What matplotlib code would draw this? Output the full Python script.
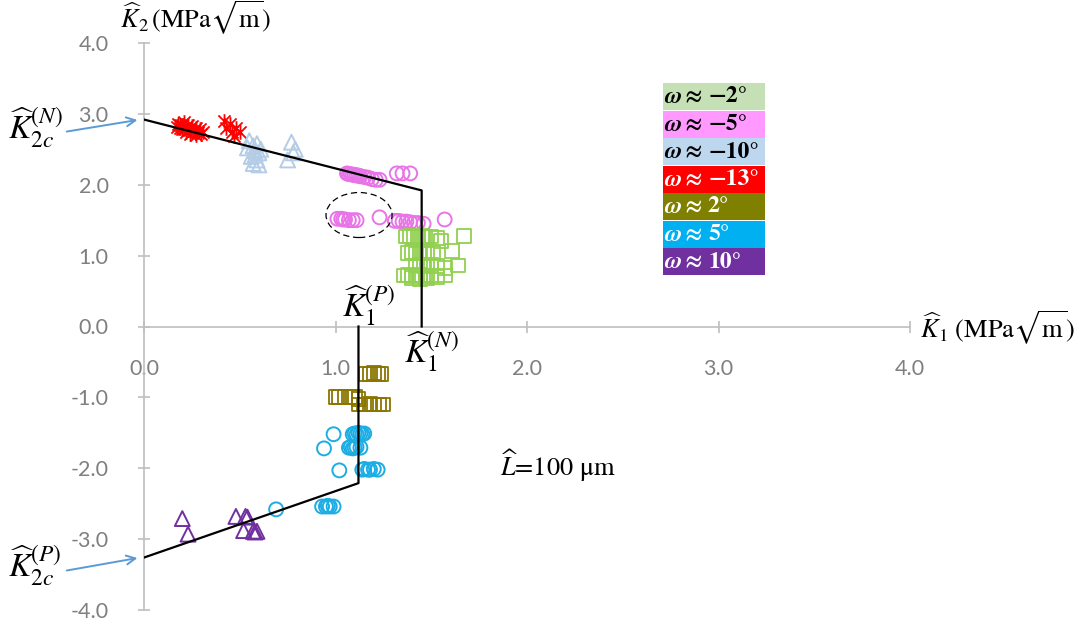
import matplotlib
matplotlib.use("Agg")
import matplotlib.pyplot as plt
from matplotlib.path import Path
from matplotlib.patches import Ellipse, Rectangle

plt.rcParams['mathtext.fontset'] = 'stix'

# ---------------- data ----------------
# failure envelope (MPa*sqrt(m))
K2c_N = 2.92
K2c_P = -3.26
K1_N = 1.45
K1_P = 1.12
env_upper_x = [0.0, K1_N, K1_N]
env_upper_y = [K2c_N, 1.92, 0.0]
env_lower_x = [K1_P, K1_P, 0.0]
env_lower_y = [0.0, -2.21, K2c_P]

# omega ~ -13 deg
w_m13_x = [0.17, 0.18, 0.19, 0.20, 0.20, 0.21, 0.22, 0.22, 0.23, 0.24, 0.24, 0.25,
           0.26, 0.27, 0.27, 0.28, 0.29, 0.30, 0.31, 0.19, 0.21, 0.23,
           0.42, 0.45, 0.43, 0.46, 0.50, 0.48, 0.47]
w_m13_y = [2.82, 2.86, 2.80, 2.84, 2.78, 2.88, 2.81, 2.75, 2.85, 2.79, 2.72, 2.83,
           2.76, 2.80, 2.70, 2.74, 2.78, 2.72, 2.75, 2.84, 2.79, 2.77,
           2.90, 2.86, 2.80, 2.75, 2.74, 2.80, 2.69]

# omega ~ -10 deg
w_m10_x = [0.55, 0.57, 0.58, 0.60, 0.56, 0.59, 0.57, 0.60, 0.58, 0.61, 0.54, 0.59,
           0.77, 0.79, 0.75, 0.78]
w_m10_y = [2.62, 2.55, 2.48, 2.45, 2.40, 2.35, 2.30, 2.28, 2.42, 2.50, 2.52, 2.58,
           2.60, 2.50, 2.35, 2.45]

# omega ~ -5 deg
w_m5_x = [1.06, 1.07, 1.08, 1.09, 1.10, 1.11, 1.12, 1.13, 1.15, 1.17, 1.19, 1.21, 1.23,
          1.32, 1.35, 1.39,
          1.01, 1.03, 1.04, 1.05, 1.07, 1.09, 1.11, 1.23,
          1.31, 1.33, 1.35, 1.37, 1.39, 1.41, 1.43, 1.46, 1.57]
w_m5_y = [2.16, 2.15, 2.15, 2.14, 2.14, 2.13, 2.13, 2.12, 2.11, 2.10, 2.08, 2.07, 2.07,
          2.16, 2.16, 2.16,
          1.52, 1.52, 1.51, 1.51, 1.50, 1.50, 1.50, 1.54,
          1.49, 1.49, 1.48, 1.48, 1.47, 1.46, 1.46, 1.45, 1.51]

# omega ~ -2 deg
w_m2_x = [1.37, 1.39, 1.41, 1.43, 1.45, 1.47, 1.50, 1.53,
          1.38, 1.40, 1.42, 1.44, 1.46, 1.48, 1.51,
          1.42, 1.44, 1.46, 1.48, 1.50, 1.53,
          1.36, 1.38, 1.40, 1.42, 1.44, 1.47, 1.50, 1.53,
          1.40, 1.44, 1.48,
          1.67, 1.61, 1.64, 1.57, 1.57, 1.55]
w_m2_y = [1.27, 1.28, 1.26, 1.27, 1.28, 1.26, 1.27, 1.25,
          1.04, 1.05, 1.03, 1.04, 1.05, 1.03, 1.04,
          0.86, 0.87, 0.85, 0.86, 0.87, 0.85,
          0.72, 0.73, 0.71, 0.72, 0.73, 0.71, 0.72, 0.70,
          0.68, 0.67, 0.68,
          1.28, 1.07, 0.86, 0.82, 0.72, 1.21]

# omega ~ 2 deg
w_p2_x = [1.16, 1.18, 1.20, 1.22, 1.24,
          1.00, 1.02, 1.05, 1.08, 1.10, 1.12,
          1.12, 1.15, 1.18, 1.20, 1.23, 1.25]
w_p2_y = [-0.67, -0.67, -0.66, -0.67, -0.67,
          -1.00, -1.00, -1.00, -1.00, -1.00, -1.02,
          -1.10, -1.10, -1.09, -1.10, -1.10, -1.10]

# omega ~ 5 deg
w_p5_x = [1.09, 1.10, 1.11, 1.12, 1.13, 1.14, 1.15,
          1.07, 1.08, 1.09, 1.10, 1.11, 1.13,
          1.14, 1.15, 1.17, 1.18, 1.20, 1.22,
          0.99, 0.94, 1.02,
          0.93, 0.95, 0.96, 0.97, 0.99, 0.69]
w_p5_y = [-1.52, -1.51, -1.52, -1.50, -1.51, -1.52, -1.51,
          -1.71, -1.70, -1.72, -1.71, -1.70, -1.71,
          -2.02, -2.01, -2.02, -2.02, -2.01, -2.02,
          -1.52, -1.72, -2.03,
          -2.54, -2.54, -2.53, -2.54, -2.54, -2.58]

# omega ~ 10 deg
w_p10_x = [0.20, 0.23, 0.48, 0.53, 0.54, 0.52, 0.57, 0.59, 0.58]
w_p10_y = [-2.71, -2.93, -2.68, -2.68, -2.69, -2.88, -2.89, -2.89, -2.90]

legend_values = ['−2°', '−5°', '−10°', '−13°', '2°', '5°', '10°']
legend_colors = ['#C5E0B4', '#FF99FF', '#BDD7EE', '#FF0000',
                 '#808000', '#00B0F0', '#7030A0']
legend_text_colors = ['black', 'black', 'black', 'white', 'white', 'white', 'white']

x_ticks = [0.0, 1.0, 2.0, 3.0, 4.0]
y_ticks = [-4.0, -3.0, -2.0, -1.0, 0.0, 1.0, 2.0, 3.0, 4.0]

# ---------------- figure ----------------
W, H = 1087, 635
fig = plt.figure(figsize=(W / 100, H / 100), dpi=100)


def fx(px):
    return px / W


def fy(py):
    return 1 - py / H


ax = fig.add_axes([fx(144), fy(610), fx(910) - fx(144), fy(43) - fy(610)])
ax.set_xlim(0, 4)
ax.set_ylim(-4, 4)
ax.patch.set_alpha(0)

axis_grey = '#BFBFBF'
label_grey = '#7F7F7F'
for s in ['top', 'right']:
    ax.spines[s].set_visible(False)
ax.spines['left'].set_position(('data', 0))
ax.spines['bottom'].set_position(('data', 0))
for s in ['left', 'bottom']:
    ax.spines[s].set_color(axis_grey)
    ax.spines[s].set_linewidth(1.2)
ax.set_xticks(x_ticks)
ax.set_yticks(y_ticks)
ax.set_xticklabels([f'{v:.1f}' for v in x_ticks])
ax.set_yticklabels([f'{v:.1f}' for v in y_ticks])
ax.tick_params(axis='both', direction='inout', length=9, width=1.2,
               color=axis_grey, labelcolor=label_grey, labelsize=15.5)
ax.tick_params(axis='x', pad=19)
ax.tick_params(axis='y', pad=21)
for lab in ax.get_xticklabels() + ax.get_yticklabels():
    lab.set_fontfamily('Lato')

# envelope
ax.plot(env_upper_x, env_upper_y, color='black', lw=1.6, zorder=4)
ax.plot(env_lower_x, env_lower_y, color='black', lw=1.6, zorder=4)

# star marker (x with a vertical bar)
star = Path([(-1, -1), (1, 1), (-1, 1), (1, -1), (0, -1.2), (0, 1.2)],
            [Path.MOVETO, Path.LINETO] * 3)

ax.scatter(w_m13_x, w_m13_y, marker=star, s=110, color='#FF0000', linewidths=1.3, zorder=3)
ax.scatter(w_m10_x, w_m10_y, marker='^', s=115, facecolors='none',
           edgecolors='#B4CCE6', linewidths=1.4, zorder=3)
ax.scatter(w_m5_x, w_m5_y, marker='o', s=100, facecolors='none',
           edgecolors='#E874E8', linewidths=1.4, zorder=3)
ax.scatter(w_m2_x, w_m2_y, marker='s', s=100, facecolors='none',
           edgecolors='#92D050', linewidths=1.3, zorder=3)
ax.scatter(w_p2_x, w_p2_y, marker='s', s=100, facecolors='none',
           edgecolors='#8A7500', linewidths=1.3, zorder=3)
ax.scatter(w_p5_x, w_p5_y, marker='o', s=100, facecolors='none',
           edgecolors='#1BADE3', linewidths=1.4, zorder=3)
ax.scatter(w_p10_x, w_p10_y, marker='^', s=115, facecolors='none',
           edgecolors='#7030A0', linewidths=1.4, zorder=3)

# dashed ellipse round the lower -5 deg group
ax.add_patch(Ellipse((1.123, 1.573), 0.345, 0.635, fill=False, ls=(0, (5, 3)),
                     lw=0.9, edgecolor='black', zorder=5))

serif = ['STIXGeneral', 'DejaVu Serif']

# axis titles and labels
fig.text(fx(120), fy(18), r'$\widehat{K}_2\,(\mathrm{MPa}\sqrt{\mathrm{m}})$',
         fontsize=19, ha='left', va='center')
fig.text(fx(920), fy(328), r'$\widehat{K}_1\ (\mathrm{MPa}\sqrt{\mathrm{m}})$',
         fontsize=19, ha='left', va='center')
fig.text(fx(342), fy(306), r'$\widehat{K}_1^{(P)}$', fontsize=24, ha='left', va='center')
fig.text(fx(404), fy(352), r'$\widehat{K}_1^{(N)}$', fontsize=24, ha='left', va='center')
fig.text(fx(500), fy(466), r'$\widehat{L}$=100 μm', fontsize=19, family=serif,
         ha='left', va='center')
fig.text(fx(8), fy(128), r'$\widehat{K}_{2c}^{(N)}$', fontsize=24, ha='left', va='center')
fig.text(fx(8), fy(566), r'$\widehat{K}_{2c}^{(P)}$', fontsize=24, ha='left', va='center')

arrow_kw = dict(arrowstyle='->', color='#5B9BD5', lw=1.4, mutation_scale=16)
ax.annotate('', xy=(-0.02, K2c_N), xycoords='data', annotation_clip=False,
            xytext=(64, H - 132), textcoords='figure pixels', arrowprops=arrow_kw)
ax.annotate('', xy=(-0.02, K2c_P), xycoords='data', annotation_clip=False,
            xytext=(64, H - 571), textcoords='figure pixels', arrowprops=arrow_kw)

# colour key
box_tops = [83, 111, 138, 166, 193, 221, 248]
for top, val, c, tc in zip(box_tops, legend_values, legend_colors, legend_text_colors):
    fig.patches.append(Rectangle((fx(663), fy(top + 27)), fx(765) - fx(663),
                                 fy(top) - fy(top + 27), transform=fig.transFigure,
                                 facecolor=c, edgecolor='none'))
    yc = fy(top + 14)
    fig.text(fx(664), yc, 'ω', color=tc, fontsize=17, fontweight='bold',
             fontstyle='italic', family=serif, ha='left', va='center')
    fig.text(fx(684), yc, '≈', color=tc, fontsize=17, fontweight='bold',
             family=serif, ha='left', va='center')
    fig.text(fx(708), yc, val, color=tc, fontsize=17, fontweight='bold',
             family=serif, ha='left', va='center')

fig.savefig('out.png', dpi=100)
